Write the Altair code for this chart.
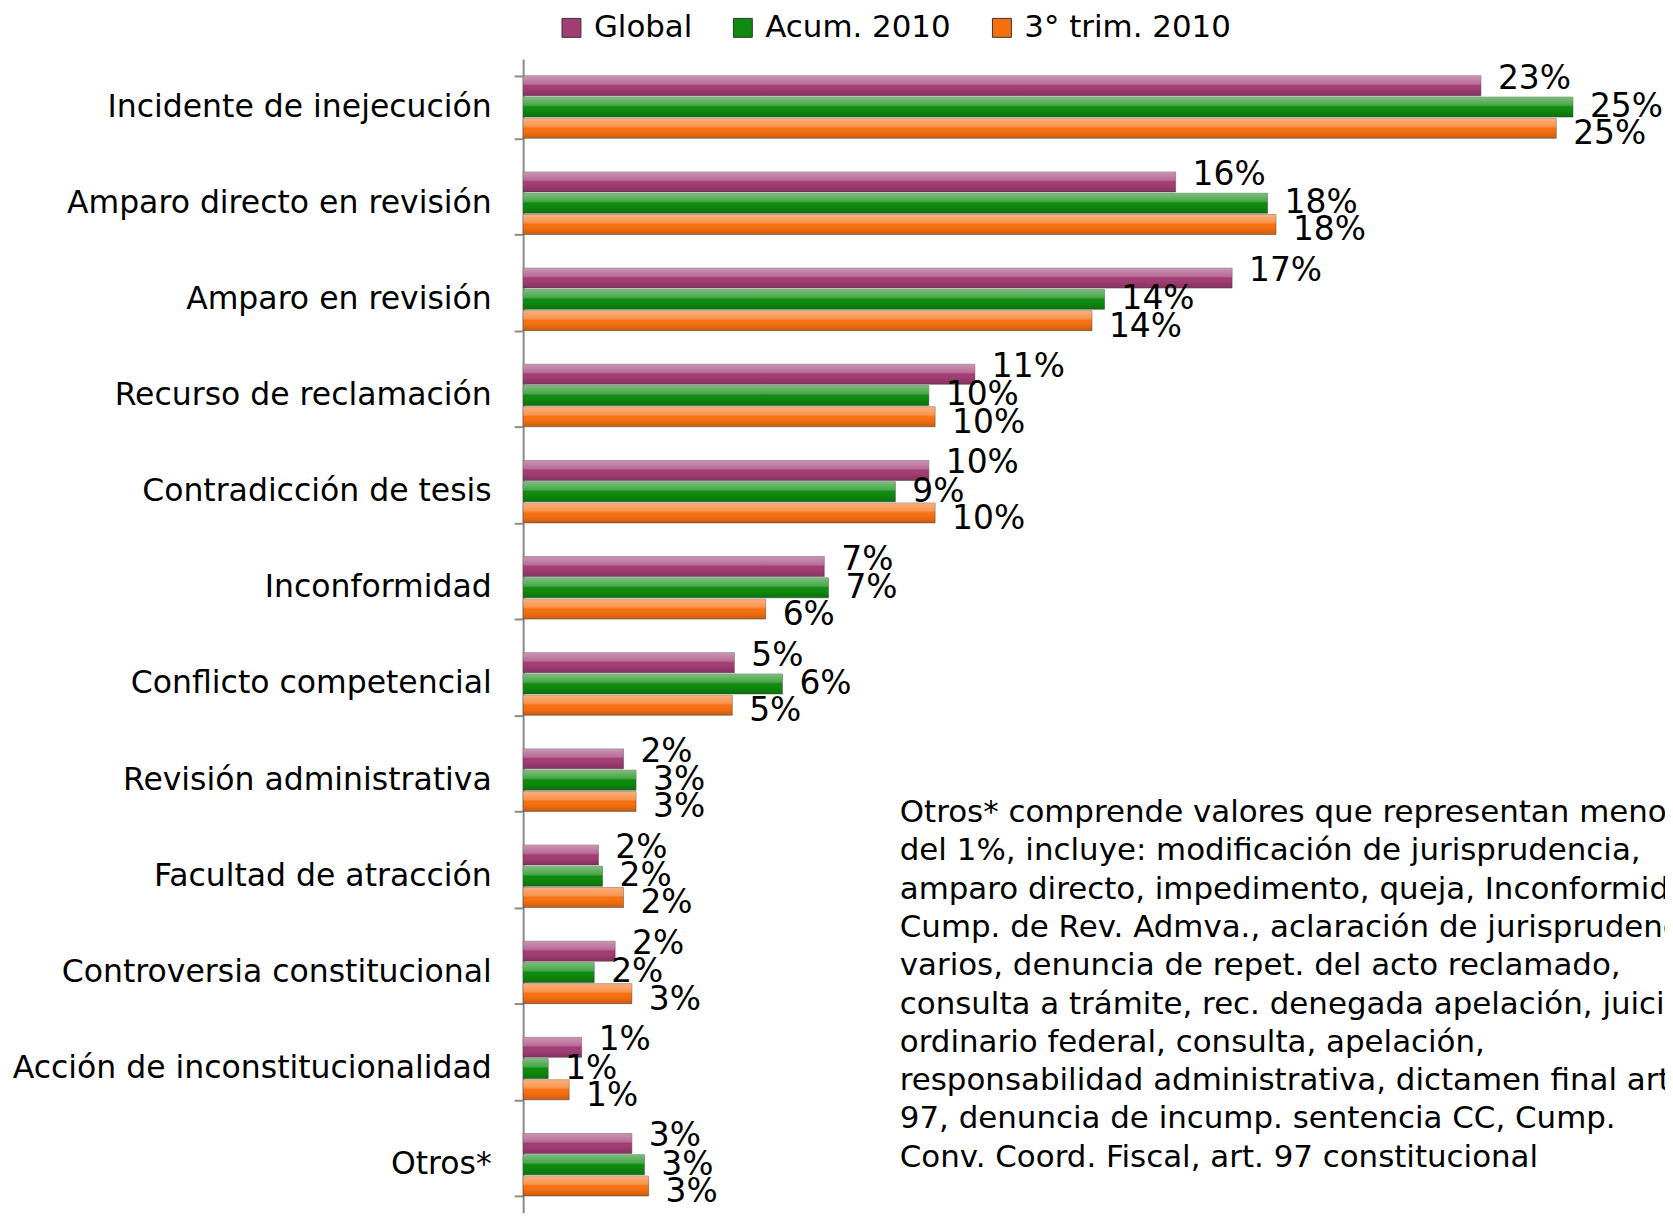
import altair as alt
import pandas as pd

categories = [
    "Incidente de inejecución",
    "Amparo directo en revisión",
    "Amparo en revisión",
    "Recurso de reclamación",
    "Contradicción de tesis",
    "Inconformidad",
    "Conflicto competencial",
    "Revisión administrativa",
    "Facultad de atracción",
    "Controversia constitucional",
    "Acción de inconstitucionalidad",
    "Otros*",
]
series = ["Global", "Acum. 2010", "3° trim. 2010"]
colors = ["#A23D74", "#0E8A0E", "#F77010"]

global_vals = [22.9, 15.6, 16.95, 10.8, 9.7, 7.2, 5.05, 2.4, 1.8, 2.2, 1.4, 2.6]
acum_vals = [25.1, 17.8, 13.9, 9.7, 8.9, 7.3, 6.2, 2.7, 1.9, 1.7, 0.6, 2.9]
trim_vals = [24.7, 18.0, 13.6, 9.85, 9.85, 5.8, 5.0, 2.7, 2.4, 2.6, 1.1, 3.0]

note_lines = [
    "Otros* comprende valores que representan menos",
    "del 1%, incluye: modificación de jurisprudencia,",
    "amparo directo, impedimento, queja, Inconformidad,",
    "Cump. de Rev. Admva., aclaración de jurisprudencia,",
    "varios, denuncia de repet. del acto reclamado,",
    "consulta a trámite, rec. denegada apelación, juicio",
    "ordinario federal, consulta, apelación,",
    "responsabilidad administrativa, dictamen final art.",
    "97, denuncia de incump. sentencia CC, Cump.",
    "Conv. Coord. Fiscal, art. 97 constitucional",
]

rows = []
for s, vals in zip(series, [global_vals, acum_vals, trim_vals]):
    for c, v in zip(categories, vals):
        rows.append({"categoria": c, "serie": s, "valor": v, "etiqueta": f"{round(v)}%"})
df = pd.DataFrame(rows)

FONT = "DejaVu Sans"

y_enc = alt.Y(
    "categoria:N",
    sort=categories,
    scale=alt.Scale(paddingInner=0.35, paddingOuter=0.175),
    axis=alt.Axis(
        title=None,
        labelFont=FONT,
        labelFontSize=31.6,
        labelColor="black",
        labelLimit=0,
        labelPadding=23,
        domainColor="#8a8a8a",
        domainWidth=2,
        tickColor="#8a8a8a",
        tickWidth=2,
        tickSize=9,
        tickBand="extent",
    ),
)
yoff_enc = alt.YOffset("serie:N", sort=series, scale=alt.Scale(paddingInner=0.06))
x_enc = alt.X("valor:Q", scale=alt.Scale(domain=[0, 27.3]), axis=None)

base = alt.Chart(df)

bars = base.mark_bar(stroke="#444444", strokeWidth=0.8, strokeOpacity=0.6).encode(
    y=y_enc,
    yOffset=yoff_enc,
    x=x_enc,
    color=alt.Color(
        "serie:N",
        sort=series,
        scale=alt.Scale(domain=series, range=colors),
        legend=alt.Legend(
            title=None,
            orient="none",
            direction="horizontal",
            legendX=33,
            legendY=-47,
            symbolType="square",
            symbolSize=361,
            symbolStrokeColor="#333333",
            symbolStrokeWidth=1,
            labelFont=FONT,
            labelFontSize=31,
            labelColor="black",
            labelOffset=7,
            columnPadding=35,
            labelLimit=0,
        ),
    ),
)

shine = base.mark_bar(
    fill=alt.LinearGradient(
        gradient="linear",
        x1=0, x2=0, y1=0, y2=1,
        stops=[
            alt.GradientStop(color="rgba(255,255,255,0.45)", offset=0),
            alt.GradientStop(color="rgba(255,255,255,0.25)", offset=0.4),
            alt.GradientStop(color="rgba(255,255,255,0.0)", offset=0.5),
            alt.GradientStop(color="rgba(0,0,0,0.05)", offset=0.75),
            alt.GradientStop(color="rgba(0,0,0,0.18)", offset=1),
        ],
    )
).encode(y=y_enc, yOffset=yoff_enc, x=x_enc)

label_dy = {"Global": -7, "Acum. 2010": 0, "3° trim. 2010": 6}
label_layers = []
for s in series:
    label_layers.append(
        base.transform_filter(alt.datum.serie == s)
        .mark_text(
            align="left", baseline="middle", dx=17, dy=label_dy[s],
            font=FONT, fontSize=33, color="black",
        )
        .encode(y=y_enc, yOffset=yoff_enc, x=x_enc, text="etiqueta:N")
    )

note = alt.Chart(pd.DataFrame({"nota": ["\n".join(note_lines)]})).mark_text(
    align="left", baseline="alphabetic", lineBreak="\n", lineHeight=38.4,
    font=FONT, fontSize=31, color="black", clip=True,
).encode(x=alt.value(378), y=alt.value(766), text="nota:N")

chart = alt.layer(bars, shine, *label_layers, note).properties(
    width=1146,
    height=1158,
    autosize=alt.AutoSizeParams(type="none"),
    padding={"left": 517, "top": 49, "right": 0, "bottom": 0},
    background="white",
).configure_view(stroke=None)

chart.save("out.html", embed_options={"renderer": "svg", "actions": False})
